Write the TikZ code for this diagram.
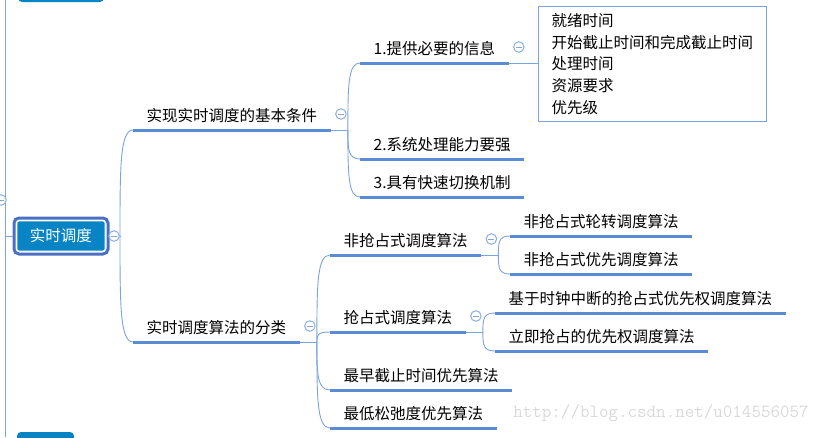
\documentclass[tikz,border=0pt]{standalone}
\usepackage{fontspec}
\usepackage{tikz}
\usetikzlibrary{calc,fit,positioning}
\newfontfamily\cjk{Noto Sans CJK SC}

\definecolor{ulinecol}{HTML}{5B8BD4}
\definecolor{linkcol}{HTML}{7BA3DC}
\definecolor{foldcol}{HTML}{8AAEE3}
\definecolor{rootfill}{HTML}{0884C4}
\definecolor{rootframe}{HTML}{4C6FC2}
\definecolor{markcol}{HTML}{D9D9D9}

\tikzset{
  topic/.style={font=\cjk\fontsize{15.5}{18}\selectfont, inner xsep=13.5pt, inner ysep=0pt,
    text height=12pt, text depth=8pt, anchor=south west},
  uline/.style={draw=ulinecol, line width=3pt},
  link/.style={draw=linkcol, line width=0.9pt},
  fold/.style={circle, draw=foldcol, fill=white, minimum size=10.5pt, inner sep=0pt, line width=1pt,
    path picture={\draw[foldcol!80!gray, line width=0.9pt]
      ([xshift=-3pt]path picture bounding box.center) -- ([xshift=3pt]path picture bounding box.center);}},
  rootbox/.style={fill=rootfill, draw=white, line width=0.8pt, rounded corners=2pt,
    minimum width=88pt, minimum height=30pt, text=white, font=\cjk\fontsize{15.5}{18}\selectfont},
  rootring/.style={draw=rootframe, line width=3pt, rounded corners=5pt, inner sep=2.6pt},
  infobox/.style={draw=linkcol, line width=0.8pt, anchor=north west, align=left,
    minimum width=228pt, minimum height=115pt, inner xsep=11pt,
    font=\cjk\fontsize{15.5}{21.7}\selectfont}
}

% curve from a junction into the start of a topic underline
\newcommand{\twig}[2]{\draw[link] (#1) .. controls ($(#1)!0.65!(#1|-#2)$) and (#1|-#2) .. (#2);}
% underline of a topic
\newcommand{\under}[1]{\draw[uline] (#1.south west) -- (#1.south east);}

\begin{document}
\begin{tikzpicture}[x=1pt,y=-1pt]
\useasboundingbox (0,0) rectangle (828,437);

% left edge of the map and cut off neighbours
\coordinate (lt) at (5,0);
\coordinate (lb) at (5,437);
\draw[link] (lt) -- (lb);
\node[fold] (fl) at (1,200) {};
\fill[rootfill, rounded corners=4pt] (18,-20) rectangle (104,2);
\fill[rootfill, rounded corners=4pt] (17,432) rectangle (74,460);

% root
\node[rootbox] (rt) at (61,236) {实时调度};
\node[rootring, fit=(rt)] (rtf) {};
\draw[link] (rtf.west -| lt) -- (rtf.west);
\node[fold] (f0) at (114,236) {};
\draw[link] (rtf.east) -- (f0.west);
\coordinate (j0) at (120,236);
\draw[link] (f0.east) -- (j0);

% first level
\node[topic] (a) at (133,130) {实现实时调度的基本条件};
\node[topic] (b) at (133,342) {实时调度算法的分类};
\twig{j0}{a.south west}
\twig{j0}{b.south west}
\under{a}
\under{b}

% basic conditions
\node[fold] (fa) at ([shift={(10,-16)}]a.south east) {};
\coordinate (j1) at ([xshift=17pt]a.south east);
\draw[link] (a.south east) -- (j1);
\node[topic] (a1) at (360,63) {1.提供必要的信息};
\node[topic] (a2) at (360,159) {2.系统处理能力要强};
\node[topic] (a3) at (360,197) {3.具有快速切换机制};
\foreach \t in {a1,a2,a3} {
  \twig{j1}{\t.south west}
  \under{\t}
}
\node[fold] (fa1) at ([shift={(10,-16)}]a1.south east) {};
\node[infobox] (info) at (538,6) {就绪时间\\开始截止时间和完成截止时间\\处理时间\\资源要求\\优先级};
\draw[link] (a1.south east) -- (a1.south east -| info.west);

% algorithm classes
\node[fold] (fb) at ([shift={(10,-16)}]b.south east) {};
\coordinate (j2) at ([xshift=17pt]b.south east);
\draw[link] (b.south east) -- (j2);
\node[topic] (b1) at (330,255) {非抢占式调度算法};
\node[topic] (b2) at (330,332) {抢占式调度算法};
\node[topic] (b3) at (330,390) {最早截止时间优先算法};
\node[topic] (b4) at (330,428) {最低松弛度优先算法};
\foreach \t in {b1,b2,b3,b4} {
  \twig{j2}{\t.south west}
  \under{\t}
}

% non-preemptive
\node[fold] (fb1) at ([shift={(10,-16)}]b1.south east) {};
\coordinate (j3) at ([xshift=17pt]b1.south east);
\draw[link] (b1.south east) -- (j3);
\node[topic] (b11) at (510,236) {非抢占式轮转调度算法};
\node[topic] (b12) at (510,274) {非抢占式优先调度算法};
\foreach \t in {b11,b12} {
  \twig{j3}{\t.south west}
  \under{\t}
}

% preemptive
\node[fold] (fb2) at ([shift={(10,-16)}]b2.south east) {};
\coordinate (j4) at ([xshift=17pt]b2.south east);
\draw[link] (b2.south east) -- (j4);
\node[topic] (b21) at (495,313) {基于时钟中断的抢占式优先权调度算法};
\node[topic] (b22) at (495,351) {立即抢占的优先权调度算法};
\foreach \t in {b21,b22} {
  \twig{j4}{\t.south west}
  \under{\t}
}

% watermark
\node[text=markcol, font=\ttfamily\fontsize{18.5}{20}\selectfont] (mark) at (661,413) {http://blog.csdn.net/u014556057};
\end{tikzpicture}
\end{document}
